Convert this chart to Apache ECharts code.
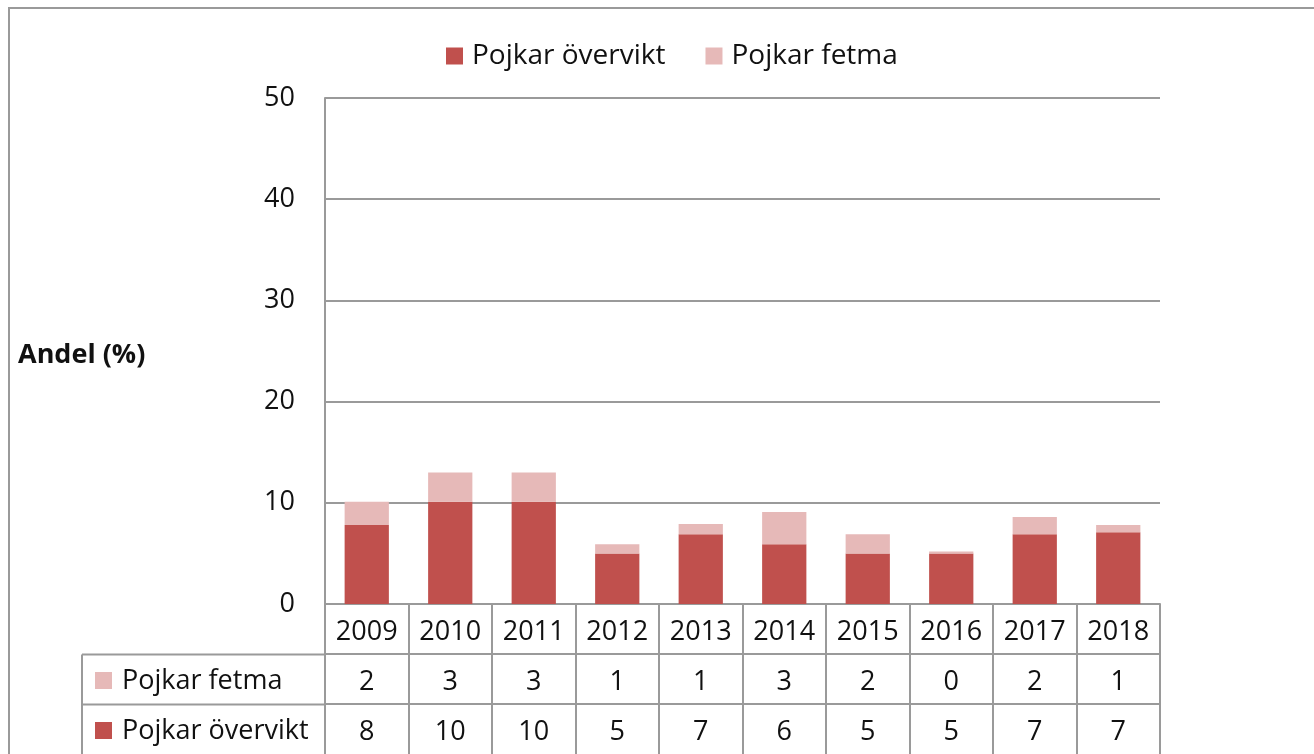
<!DOCTYPE html>
<html>
<head>
<meta charset="utf-8">
<script src="https://cdn.jsdelivr.net/npm/echarts@6/dist/echarts.min.js"></script>
<style>
  html, body { margin: 0; padding: 0; background: #fff; }
  #chart { width: 1314px; height: 754px; }
</style>
</head>
<body>
<div id="chart"></div>
<script>
// data
const years = ['2009', '2010', '2011', '2012', '2013', '2014', '2015', '2016', '2017', '2018']
const overvikt = [7.8, 10.1, 10.1, 5.0, 6.9, 5.9, 5.0, 5.0, 6.9, 7.1]
const fetma = [2.3, 2.9, 2.9, 0.9, 1.0, 3.2, 1.9, 0.2, 1.7, 0.7]
// values printed in the data table
const tableFetma = ['2', '3', '3', '1', '1', '3', '2', '0', '2', '1']
const tableOvervikt = ['8', '10', '10', '5', '7', '6', '5', '5', '7', '7']

const darkRed = '#c0504d'
const lightRed = '#e6b9b8'
const lineGray = '#9a9a9a'
const font = 'Open Sans'
const txt = '#111'
const fs = 27

const chart = echarts.init(document.getElementById('chart'))

// extra x axes used as data table rows
function tableRow(labels, offset) {
  return {
    type: 'category',
    data: years,
    position: 'bottom',
    offset: offset,
    axisLine: { show: true, lineStyle: { color: lineGray, width: 2 } },
    axisTick: { show: false },
    axisLabel: {
      margin: 15,
      fontFamily: font,
      fontSize: fs,
      color: txt,
      formatter: (v, i) => labels[i]
    }
  }
}

chart.setOption({
  animation: false,
  textStyle: { fontFamily: font },
  grid: { left: 325, right: 154, top: 98, bottom: 150 },
  legend: {
    left: 441,
    top: 37,
    itemWidth: 17,
    itemHeight: 17,
    itemGap: 40,
    icon: 'rect',
    textStyle: { fontFamily: font, fontSize: 28, color: txt, padding: [0, 0, 0, 4] },
    data: ['Pojkar övervikt', 'Pojkar fetma']
  },
  xAxis: [
    {
      type: 'category',
      data: years,
      position: 'bottom',
      axisLine: { show: true, lineStyle: { color: lineGray, width: 2 } },
      axisTick: { show: true, length: 150, lineStyle: { color: lineGray, width: 2 } },
      axisLabel: { margin: 15, fontFamily: font, fontSize: fs, color: txt }
    },
    tableRow(tableFetma, 50),
    tableRow(tableOvervikt, 100)
  ],
  yAxis: {
    type: 'value',
    min: 0,
    max: 50,
    interval: 10,
    axisLine: { show: true, lineStyle: { color: lineGray, width: 2 } },
    axisTick: { show: false },
    splitLine: { lineStyle: { color: lineGray, width: 2 } },
    axisLabel: { margin: 30, fontFamily: font, fontSize: fs, color: txt }
  },
  series: [
    {
      name: 'Pojkar övervikt',
      type: 'bar',
      stack: 'pojkar',
      barWidth: '53%',
      itemStyle: { color: darkRed },
      emphasis: { disabled: true },
      data: overvikt
    },
    {
      name: 'Pojkar fetma',
      type: 'bar',
      stack: 'pojkar',
      barWidth: '53%',
      itemStyle: { color: lightRed },
      emphasis: { disabled: true },
      data: fetma
    }
  ],
  graphic: [
    // outer frame
    { type: 'rect', shape: { x: 9, y: 8, width: 1400, height: 800 }, style: { fill: null, stroke: lineGray, lineWidth: 2 }, silent: true },
    // y axis title
    { type: 'text', x: 18, y: 355, style: { text: 'Andel (%)', font: 'bold ' + fs + 'px "' + font + '"', fill: txt, verticalAlign: 'middle' } },
    // left part of data table
    { type: 'line', shape: { x1: 82, y1: 654.5, x2: 325, y2: 654.5 }, style: { stroke: lineGray, lineWidth: 2 } },
    { type: 'line', shape: { x1: 82, y1: 704.5, x2: 325, y2: 704.5 }, style: { stroke: lineGray, lineWidth: 2 } },
    { type: 'line', shape: { x1: 82, y1: 654.5, x2: 82, y2: 760 }, style: { stroke: lineGray, lineWidth: 2 } },
    { type: 'rect', shape: { x: 95, y: 672, width: 17, height: 17 }, style: { fill: lightRed } },
    { type: 'rect', shape: { x: 95, y: 722, width: 17, height: 17 }, style: { fill: darkRed } },
    { type: 'text', x: 122, y: 681, style: { text: 'Pojkar fetma', font: fs + 'px "' + font + '"', fill: txt, verticalAlign: 'middle' } },
    { type: 'text', x: 122, y: 731, style: { text: 'Pojkar övervikt', font: fs + 'px "' + font + '"', fill: txt, verticalAlign: 'middle' } }
  ]
})
</script>
</body>
</html>
